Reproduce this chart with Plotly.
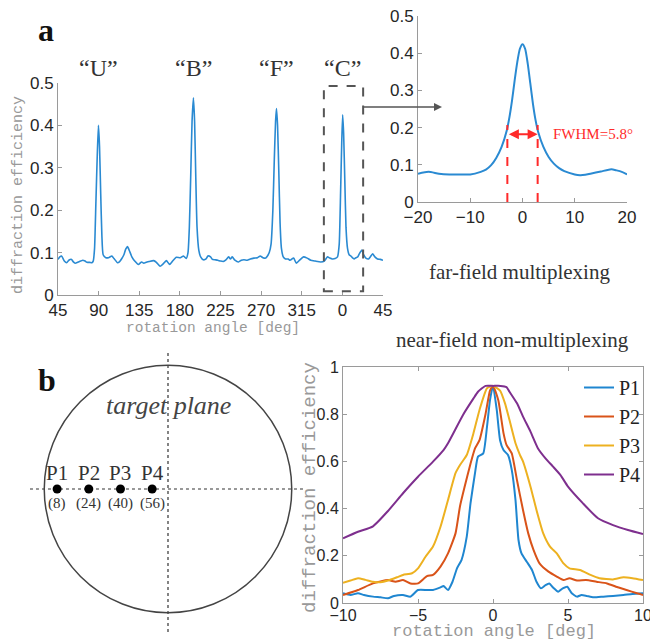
import plotly.graph_objects as go

W, H = 650, 640

# ---------------- data ----------------
# panel a, full rotation scan (angle axis unwrapped: 360..405 shown as 0..45)
main_angle = [45, 47, 49, 52, 54.6, 57, 60, 62, 64, 67.6, 70, 72.4, 75, 77, 80, 82.4, 84, 85.5, 87, 88.5,
              89.8, 91, 92.3, 93.6, 95, 98, 101, 104.6, 107, 111, 113, 115.7, 118, 120, 122, 124, 126.8,
              130, 134, 137.6, 140, 142.8, 146, 151, 154, 158, 161, 165, 168.7, 172, 176, 180.5, 184, 187,
              189, 190.5, 192, 193.5, 195, 196.3, 197.6, 199, 201, 203, 206, 209, 211, 214, 216, 219, 222,
              225, 228, 231, 234, 236, 238, 241, 245, 248, 251, 254.6, 258, 262, 266, 269, 272, 275, 277,
              279, 281, 283, 284.6, 286, 287, 288.2, 289.6, 291, 292.5, 294.5, 297, 300, 302, 306, 309,
              313, 317, 321, 325, 330, 336, 340, 343.5, 346, 349, 352, 354.6, 356.5, 358, 359.3, 360.3,
              361.4, 362.7, 364, 365.7, 367.5, 369.4, 371, 373, 375, 377, 379, 381.6, 383.5, 386, 389,
              391, 393.5, 396, 399, 402, 405]
main_eff = [0.084, 0.09, 0.092, 0.08, 0.076, 0.082, 0.084, 0.078, 0.075, 0.078, 0.08, 0.082, 0.08, 0.077,
            0.077, 0.076, 0.08, 0.11, 0.22, 0.33, 0.40, 0.35, 0.24, 0.14, 0.095, 0.088, 0.088, 0.092, 0.086,
            0.076, 0.078, 0.086, 0.095, 0.108, 0.114, 0.105, 0.09, 0.08, 0.072, 0.078, 0.075, 0.077, 0.079,
            0.081, 0.077, 0.068, 0.072, 0.081, 0.072, 0.08, 0.089, 0.088, 0.092, 0.086, 0.1, 0.16, 0.28,
            0.41, 0.465, 0.41, 0.28, 0.16, 0.105, 0.09, 0.083, 0.085, 0.092, 0.09, 0.084, 0.083, 0.082,
            0.08, 0.079, 0.083, 0.09, 0.085, 0.09, 0.082, 0.078, 0.082, 0.083, 0.082, 0.085, 0.087, 0.088,
            0.092, 0.088, 0.087, 0.092, 0.1, 0.12, 0.2, 0.32, 0.41, 0.44, 0.40, 0.29, 0.17, 0.11, 0.09,
            0.085, 0.085, 0.082, 0.087, 0.075, 0.083, 0.09, 0.087, 0.082, 0.08, 0.078, 0.08, 0.09, 0.087,
            0.085, 0.086, 0.09, 0.12, 0.24, 0.36, 0.425, 0.38, 0.27, 0.16, 0.11, 0.095, 0.092, 0.088, 0.085,
            0.088, 0.09, 0.098, 0.106, 0.095, 0.087, 0.085, 0.09, 0.097, 0.09, 0.085, 0.084, 0.082]
main_tickvals = [45, 90, 135, 180, 225, 270, 315, 360, 405]
main_ticktext = ["45", "90", "135", "180", "225", "270", "315", "0", "45"]
letter_pos = [90, 195, 287, 360]
letter_text = ["\u201cU\u201d", "\u201cB\u201d", "\u201cF\u201d", "\u201cC\u201d"]
box_x = [339.5, 383]
box_y = [0.009, 0.493]

# inset: zoom on "C"
inset_angle = [-20, -18, -16, -14, -12, -10, -8, -7, -6, -5, -4, -3, -2.5, -2, -1.5, -1, -0.5, 0, 0.5, 1,
               1.5, 2, 2.5, 3, 4, 5, 6, 7, 8, 10, 11, 12, 13, 15, 17, 18, 19, 20]
inset_eff = [0.076, 0.081, 0.076, 0.074, 0.074, 0.074, 0.081, 0.087, 0.099, 0.119, 0.148, 0.193, 0.228,
             0.273, 0.327, 0.376, 0.412, 0.424, 0.412, 0.372, 0.318, 0.264, 0.22, 0.188, 0.148, 0.121,
             0.103, 0.091, 0.083, 0.074, 0.072, 0.073, 0.076, 0.082, 0.088, 0.085, 0.081, 0.074]
fwhm_edges = [-2.9, 2.9]
fwhm_top = 0.207
fwhm_arrow_y = 0.182

# panel b, near field
p1_x = [-10, -9.5, -9, -8.6, -8, -7.5, -7, -6.6, -6, -5.5, -5, -4.4, -4, -3.5, -3.3, -3, -2.7, -2.4, -2.1,
        -1.75, -1.5, -1.2, -1, -0.65, -0.4, -0.2, 0, 0.25, 0.47, 0.7, 1.0, 1.25, 1.5, 1.7, 1.9, 2.25, 2.6,
        2.9, 3.2, 3.5, 3.75, 4.0, 4.35, 4.65, 4.95, 5.25, 5.6, 5.9, 6.25, 6.7, 7.35, 8, 8.7, 9.3, 10]
p1_y = [0.041, 0.034, 0.041, 0.034, 0.027, 0.024, 0.02, 0.03, 0.034, 0.027, 0.055, 0.055, 0.055, 0.066,
        0.072, 0.055, 0.09, 0.147, 0.182, 0.281, 0.422, 0.55, 0.62, 0.634, 0.747, 0.86, 0.92, 0.818, 0.69,
        0.648, 0.627, 0.564, 0.436, 0.267, 0.21, 0.175, 0.14, 0.09, 0.062, 0.076, 0.083, 0.066, 0.048,
        0.062, 0.069, 0.041, 0.027, 0.034, 0.03, 0.024, 0.027, 0.03, 0.034, 0.038, 0.041]
p2_x = [-10, -9, -8, -7, -6.5, -6, -5.5, -5, -4.4, -4, -3.5, -3, -2.5, -2.2, -1.9, -1.5, -1.2, -0.9, -0.5,
        -0.2, 0, 0.35, 0.7, 0.9, 1.25, 1.6, 2, 2.35, 2.7, 3.1, 3.7, 4.25, 4.7, 5.1, 5.6, 6.2, 6.9, 7.6,
        8.2, 8.9, 9.6, 10]
p2_y = [0.034, 0.055, 0.083, 0.097, 0.09, 0.097, 0.083, 0.083, 0.114, 0.119, 0.154, 0.21, 0.295, 0.41,
        0.49, 0.59, 0.655, 0.69, 0.80, 0.90, 0.92, 0.86, 0.72, 0.67, 0.634, 0.52, 0.394, 0.295, 0.225,
        0.168, 0.133, 0.112, 0.097, 0.105, 0.095, 0.097, 0.09, 0.083, 0.069, 0.055, 0.041, 0.034]
p3_x = [-10, -9.5, -9, -8.5, -8, -7.5, -7, -6.4, -6, -5.4, -5, -4.5, -4, -3.5, -3, -2.5, -2.2, -1.75, -1.3,
        -0.9, -0.4, 0, 0.47, 0.8, 1.1, 1.5, 1.8, 2, 2.5, 2.9, 3.35, 3.8, 4.25, 4.7, 5.1, 5.8, 6.5, 7.1,
        8, 8.7, 9.3, 10]
p3_y = [0.086, 0.095, 0.105, 0.098, 0.09, 0.088, 0.095, 0.109, 0.119, 0.126, 0.147, 0.196, 0.239, 0.323,
        0.436, 0.55, 0.585, 0.627, 0.72, 0.818, 0.91, 0.92, 0.9, 0.846, 0.775, 0.677, 0.627, 0.6, 0.493,
        0.394, 0.295, 0.239, 0.21, 0.168, 0.147, 0.14, 0.119, 0.105, 0.1, 0.109, 0.105, 0.097]
p4_x = [-10, -9, -8, -7, -6, -5, -4, -3.3, -3, -2, -1.3, -1, -0.5, 0, 0.5, 0.9, 1.1, 1.6, 2, 2.5, 3, 3.5,
        4, 4.5, 5, 6, 7, 8, 9, 10]
p4_y = [0.274, 0.302, 0.325, 0.39, 0.465, 0.535, 0.599, 0.648, 0.677, 0.797, 0.867, 0.895, 0.92, 0.92,
        0.92, 0.915, 0.895, 0.846, 0.79, 0.726, 0.655, 0.613, 0.578, 0.542, 0.493, 0.422, 0.359, 0.33,
        0.309, 0.292]
series_names = ["P1", "P2", "P3", "P4"]
series_colors = ["#1f86d0", "#d95319", "#edb120", "#7e2f8e"]

# target plane points (pixel index, centre at 64)
point_idx = [8, 24, 40, 56]
point_names = ["P1", "P2", "P3", "P4"]
point_labels = ["(8)", "(24)", "(40)", "(56)"]
plane_center = 64
plane_radius = 62.5

# ---------------- helpers ----------------
def px(x):
    return x / W

def py(y):
    return 1 - y / H

SANS = "Liberation Sans"
SERIF = "Liberation Serif"
MONO = "Liberation Mono"
TICK = dict(family=SANS, size=17, color="#262626")
AX = "#9a9a9a"

fig = go.Figure()

fig.add_trace(go.Scatter(x=main_angle, y=main_eff, mode="lines", xaxis="x", yaxis="y",
                         line=dict(color="#2a8ad2", width=1.6, shape="spline", smoothing=0.5),
                         showlegend=False, hoverinfo="skip"))
fig.add_trace(go.Scatter(x=inset_angle, y=inset_eff, mode="lines", xaxis="x2", yaxis="y2",
                         line=dict(color="#2a8ad2", width=2, shape="spline", smoothing=0.6),
                         showlegend=False, hoverinfo="skip"))
for xe in fwhm_edges:
    fig.add_trace(go.Scatter(x=[xe, xe], y=[0, fwhm_top], mode="lines", xaxis="x2", yaxis="y2",
                             line=dict(color="#ff2a2a", width=2, dash="dash"),
                             showlegend=False, hoverinfo="skip"))

for xs, ys, nm, col in zip([p1_x, p2_x, p3_x, p4_x], [p1_y, p2_y, p3_y, p4_y], series_names, series_colors):
    fig.add_trace(go.Scatter(x=xs, y=ys, mode="lines", name=nm, xaxis="x3", yaxis="y3",
                             line=dict(color=col, width=2, shape="spline", smoothing=0.5)))

# target plane
scale = 1.98  # px per index unit
cx_px, cy_px = 168, 489
x4_dom = (28, 308)
y4_dom = (346, 634)
x4_range = [plane_center - (cx_px - x4_dom[0]) / scale, plane_center + (x4_dom[1] - cx_px) / scale]
y4_range = [plane_center - (y4_dom[1] - cy_px) / scale, plane_center + (cy_px - y4_dom[0]) / scale]

fig.add_trace(go.Scatter(x=[x4_range[0] + 1, x4_range[1] - 1], y=[plane_center, plane_center],
                         mode="lines", xaxis="x4", yaxis="y4",
                         line=dict(color="#333", width=1.2, dash="dot"), showlegend=False, hoverinfo="skip"))
fig.add_trace(go.Scatter(x=[plane_center, plane_center], y=[y4_range[0] + 1, y4_range[1] - 2],
                         mode="lines", xaxis="x4", yaxis="y4",
                         line=dict(color="#333", width=1.2, dash="dot"), showlegend=False, hoverinfo="skip"))
fig.add_trace(go.Scatter(x=point_idx, y=[plane_center] * len(point_idx), mode="markers",
                         xaxis="x4", yaxis="y4", marker=dict(color="black", size=9),
                         showlegend=False, hoverinfo="skip"))

shapes = [
    dict(type="rect", xref="x", yref="y", x0=box_x[0], x1=box_x[1], y0=box_y[0], y1=box_y[1],
         line=dict(color="#555", width=2, dash="dash")),
    dict(type="circle", xref="x4", yref="y4",
         x0=plane_center - plane_radius, x1=plane_center + plane_radius,
         y0=plane_center - plane_radius, y1=plane_center + plane_radius,
         line=dict(color="#444", width=1.5)),
]

ann = []
def text(x, y, s, size, family=SERIF, color="#333", angle=0, xanchor="center", **kw):
    ann.append(dict(x=x, y=y, xref=kw.pop("xref", "paper"), yref=kw.pop("yref", "paper"), text=s,
                    showarrow=False, textangle=angle, xanchor=xanchor, yanchor="middle",
                    font=dict(family=family, size=size, color=color), **kw))

text(px(46), py(30), "<b>a</b>", 32, color="#111")
text(px(47), py(380), "<b>b</b>", 32, color="#111")
for xv, t in zip(letter_pos, letter_text):
    text(xv, py(68), t, 24, xref="x")
text(px(18), py(195), "diffraction efficiency", 15, family=MONO, color="#999", angle=-90)
text(px(213), py(328), "rotation angle [deg]", 14.5, family=MONO, color="#999")
text(px(519), py(272), "far-field multiplexing", 21)
text(px(512), py(340), "near-field non-multiplexing", 21)
text(px(310), py(488), "diffraction efficiency", 19, family=MONO, color="#999", angle=-90)
text(px(494), py(631), "rotation angle [deg]", 17, family=MONO, color="#999")
text(5.5, 0.182, "FWHM=5.8°", 15, color="#ff2a2a", xanchor="left", xref="x2", yref="y2")
text(168 / W, py(405), "<i>target plane</i>", 26, color="#444")
for xi, nm, lb in zip(point_idx, point_names, point_labels):
    text(xi, plane_center, nm, 21, xref="x4", yref="y4", yshift=16)
    text(xi, plane_center, lb, 15, xref="x4", yref="y4", yshift=-14)

# arrows
ann.append(dict(x=fwhm_edges[1], y=fwhm_arrow_y, ax=fwhm_edges[0], ay=fwhm_arrow_y,
                xref="x2", yref="y2", axref="x2", ayref="y2", showarrow=True,
                arrowhead=2, arrowside="end+start", arrowsize=1, arrowwidth=2, arrowcolor="#ff2a2a", text=""))
ann.append(dict(x=px(442), y=py(107), ax=-80, ay=0, xref="paper", yref="paper", showarrow=True,
                arrowhead=2, arrowsize=1, arrowwidth=1.6, arrowcolor="#555", text=""))

def axis_common(**kw):
    d = dict(showgrid=False, zeroline=False, showline=True, linecolor=AX, linewidth=1,
             ticks="inside", ticklen=4, tickcolor=AX, tickfont=TICK, fixedrange=True, automargin=False)
    d.update(kw)
    return d

fig.update_layout(
    width=W, height=H, margin=dict(l=0, r=0, t=0, b=0, autoexpand=False),
    paper_bgcolor="white", plot_bgcolor="white",
    xaxis=axis_common(domain=[px(58), px(383)], range=[45, 405], tickvals=main_tickvals,
                      ticktext=main_ticktext, anchor="y"),
    yaxis=axis_common(domain=[py(295), py(83)], range=[0, 0.5], tickvals=[0, 0.1, 0.2, 0.3, 0.4, 0.5],
                      ticktext=["0", "0.1", "0.2", "0.3", "0.4", "0.5"], anchor="x"),
    xaxis2=axis_common(domain=[px(418), px(627)], range=[-20, 20], tickvals=[-20, -10, 0, 10, 20],
                       anchor="y2"),
    yaxis2=axis_common(domain=[py(202), py(16)], range=[0, 0.5], tickvals=[0, 0.1, 0.2, 0.3, 0.4, 0.5],
                       ticktext=["0", "0.1", "0.2", "0.3", "0.4", "0.5"], anchor="x2"),
    xaxis3=axis_common(domain=[px(343), px(643)], range=[-10, 10], tickvals=[-10, -5, 0, 5, 10],
                       anchor="y3", mirror="ticks", ticklabeloverflow="allow", ticklabelstandoff=-2,
                       tickfont=dict(family=SANS, size=16, color="#262626")),
    yaxis3=axis_common(domain=[py(603), py(367)], range=[0, 1], tickvals=[0, 0.2, 0.4, 0.6, 0.8, 1],
                       ticktext=["0", "0.2", "0.4", "0.6", "0.8", "1"], anchor="x3", mirror="ticks",
                       tickfont=dict(family=SANS, size=16, color="#262626")),
    xaxis4=dict(domain=[px(x4_dom[0]), px(x4_dom[1])], range=x4_range, visible=False, fixedrange=True,
                anchor="y4", automargin=False),
    yaxis4=dict(domain=[py(y4_dom[1]), py(y4_dom[0])], range=y4_range, visible=False, fixedrange=True,
                anchor="x4", automargin=False),
    legend=dict(x=px(646), xanchor="right", y=py(368), yanchor="top", bgcolor="rgba(0,0,0,0)",
                font=dict(family=SERIF, size=20, color="#222"), tracegroupgap=0, itemwidth=30),
    shapes=shapes, annotations=ann,
)

fig.write_html("out.html", config={"displayModeBar": False},
               post_script="document.body.style.margin='0px';document.body.style.overflow='hidden';")
